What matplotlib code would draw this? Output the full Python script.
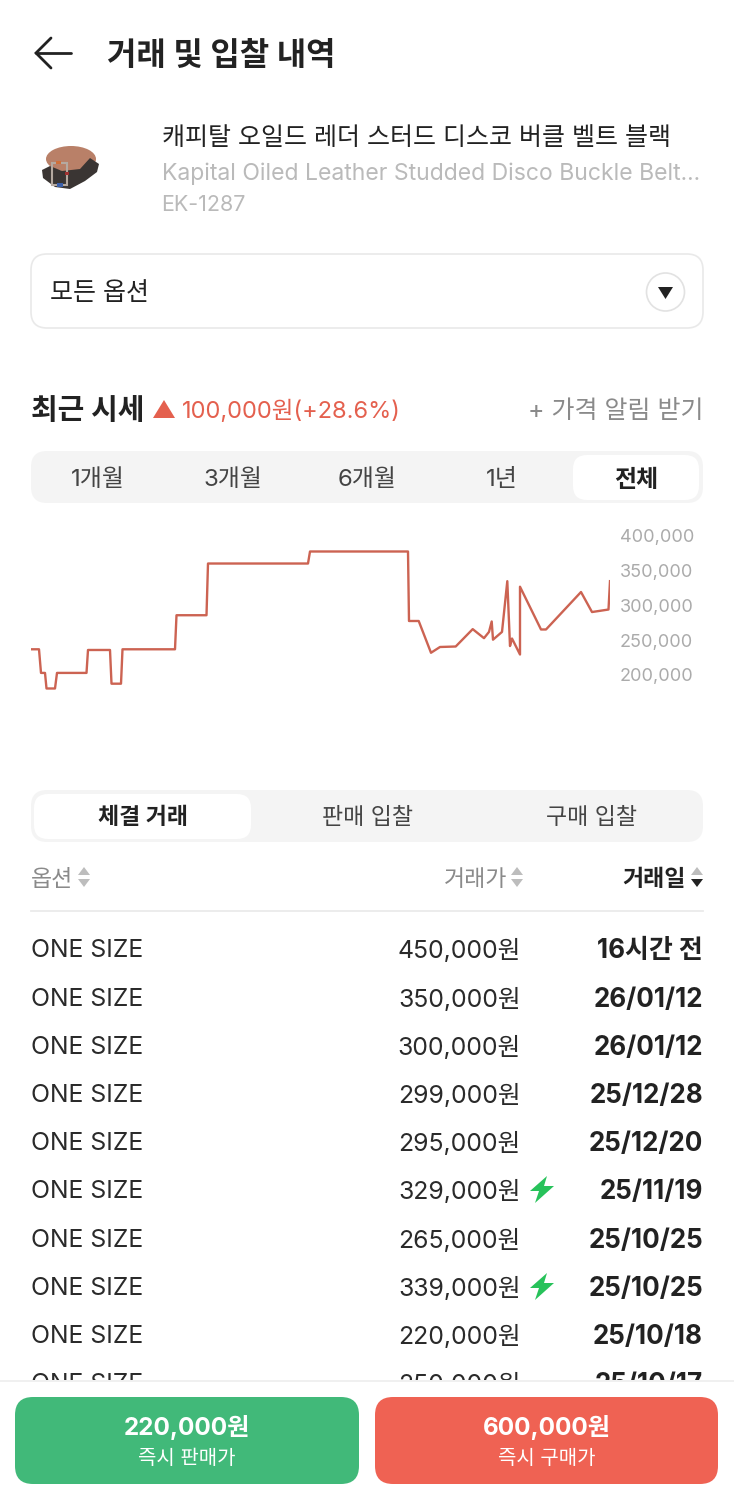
import matplotlib
matplotlib.use("Agg")
import matplotlib.pyplot as plt
from matplotlib.patches import FancyBboxPatch, Polygon, Circle, Rectangle, Ellipse

FONT = ['Inter', 'Noto Sans CJK KR', 'DejaVu Sans']
plt.rcParams['font.family'] = FONT

# ---- data ----
days = [0, 8, 10, 14, 15.5, 24, 26, 55.5, 57, 79, 80.5, 90, 91.5, 144, 145.5, 175.5, 177, 277, 279,
        377, 378, 387.7, 400, 409, 424.7, 441.7, 453, 458, 460.7, 462, 471, 476.3, 479, 481, 489, 489,
        510, 515, 550, 561, 577.5, 579]
prices = [237000, 237000, 203000, 203000, 180600, 180600, 203000, 203000, 236000, 236000, 187500, 187500,
          237000, 237000, 286000, 286000, 360400, 360400, 377700,
          377700, 277700, 277700, 232000, 240300, 241000, 266000, 253000, 262000, 277000, 250800, 262000,
          335000, 241700, 252500, 229500, 327000, 265500, 265500, 319400, 290600, 294200, 335000]
y_ticks = [200000, 250000, 300000, 350000, 400000]
period_tabs = ['1개월', '3개월', '6개월', '1년', '전체']
list_tabs = ['체결 거래', '판매 입찰', '구매 입찰']
row_option = ['ONE SIZE'] * 10
row_price = ['450,000원', '350,000원', '300,000원', '299,000원', '295,000원', '329,000원',
             '265,000원', '339,000원', '220,000원', '250,000원']
row_date = ['16시간 전', '26/01/12', '26/01/12', '25/12/28', '25/12/20', '25/11/19',
            '25/10/25', '25/10/25', '25/10/18', '25/10/17']
row_fast = [False, False, False, False, False, True, False, True, False, False]

W, H = 734, 1500
fig = plt.figure(figsize=(W / 100, H / 100), dpi=100, facecolor='white')
bg = fig.add_axes([0, 0, 1, 1])
bg.set_xlim(0, W)
bg.set_ylim(H, 0)
bg.axis('off')


def T(x, y, s, px, color='#222222', ha='left', weight='normal', z=3):
    bg.text(x, y, s, fontsize=px * 0.72, color=color, ha=ha, va='center_baseline',
            fontweight=weight, family=FONT, zorder=z)


def box(x0, y0, x1, y1, r, fc, ec='none', lw=0, z=1):
    bg.add_patch(FancyBboxPatch((x0 + r, y0 + r), x1 - x0 - 2 * r, y1 - y0 - 2 * r,
                                boxstyle=f'round,pad={r},rounding_size={r}', fc=fc, ec=ec, lw=lw, zorder=z))


# header
bg.plot([36, 71], [53, 53], color='#222222', lw=2.0, solid_capstyle='round')
bg.plot([51, 36, 51], [38, 53, 68], color='#222222', lw=2.0, solid_capstyle='round', solid_joinstyle='miter')
T(107, 53, '거래 및 입찰 내역', 32, weight='bold')

# product thumbnail
bg.add_patch(Ellipse((71, 159), 50, 26, fc='#B98068', ec='none', zorder=2))
bg.add_patch(Polygon([[42, 170], [50, 166], [62, 171], [80, 169], [90, 158], [99, 164], [97, 172], [85, 181],
                      [70, 189], [55, 187], [43, 178]], fc='#3A3533', ec='none', zorder=3))
bg.add_patch(Rectangle((52, 163), 15, 22, fc='none', ec='#B5A9A0', lw=1.5, zorder=4))
bg.add_patch(Rectangle((56, 161), 5, 3, fc='#D0703A', zorder=5))
bg.add_patch(Rectangle((57, 183), 6, 4, fc='#3B5FA8', zorder=5))
bg.add_patch(Rectangle((65, 172), 4, 3, fc='#A03030', zorder=5))
T(161.5, 136, '캐피탈 오일드 레더 스터드 디스코 버클 벨트 블랙', 25)
T(161.5, 171, 'Kapital Oiled Leather Studded Disco Buckle Belt...', 23, color='#BABABA')
T(161.5, 203, 'EK-1287', 21.5, color='#BABABA')

# option selector
box(31, 254, 703, 328, 16, 'white', ec='#E9E9E9', lw=1.2)
T(50, 291, '모든 옵션', 25)
bg.add_patch(Circle((665.5, 292), 19, fc='white', ec='#E2E2E2', lw=1.2, zorder=2))
bg.add_patch(Polygon([[658, 287], [673, 287], [665.5, 299]], fc='#222222', zorder=3))

# recent price
T(31, 409, '최근 시세', 29, weight='bold')
bg.add_patch(Polygon([[153, 418], [175, 418], [164, 400]], fc='#E4604E', zorder=3))
T(182, 409, '100,000원(+28.6%)', 23.6, color='#E4604E')
T(703, 409, '+ 가격 알림 받기', 25, color='#8A8A8A', ha='right')

# period tabs
box(31, 451, 703, 503, 16, '#F4F4F4')
box(573, 455, 699, 500, 14, 'white', z=2)
for xc, s in zip([98, 233, 367, 502, 636], period_tabs):
    act = s == '전체'
    T(xc, 478, s, 24, ha='center', weight='bold' if act else 'normal', color='#222222' if act else '#444444')

# chart
top_px, bot_px = 525, 700
ax = fig.add_axes([31 / W, 1 - bot_px / H, 579 / W, (bot_px - top_px) / H], facecolor='none')
ax.set_xlim(0, 579)
per_px = 1438.8
ax.set_ylim(200000 - (bot_px - 675) * per_px, 200000 + (675 - top_px) * per_px)
ax.plot(days, prices, color='#CC6352', lw=1.7, solid_joinstyle='round')
ax.yaxis.tick_right()
ax.set_yticks(y_ticks)
ax.set_yticklabels([f'{v:,}' for v in y_ticks], fontsize=18.1 * 0.72, color='#ABABAB', family=FONT)
ax.tick_params(axis='y', length=0, pad=7)
ax.set_xticks([])
for sp in ax.spines.values():
    sp.set_visible(False)

# list tabs
box(31, 790, 703, 842, 16, '#F4F4F4')
box(34, 794, 251, 839, 14, 'white', z=2)
for xc, s in zip([143, 367.5, 591], list_tabs):
    act = s == '체결 거래'
    T(xc, 816, s, 23, ha='center', weight='bold' if act else 'normal', color='#222222' if act else '#444444')


def sort_arrows(x, y, col_up='#BDBDBD', col_dn='#BDBDBD'):
    bg.add_patch(Polygon([[x - 6, y - 2], [x + 6, y - 2], [x, y - 10]], fc=col_up, zorder=3))
    bg.add_patch(Polygon([[x - 6, y + 2], [x + 6, y + 2], [x, y + 10]], fc=col_dn, zorder=3))


T(31, 877, '옵션', 23, color='#8A8A8A')
sort_arrows(84, 877)
T(507, 877, '거래가', 23, color='#8A8A8A', ha='right')
sort_arrows(517, 877)
T(686, 877, '거래일', 23, ha='right', weight='bold')
sort_arrows(697, 877, col_dn='#222222')
bg.plot([31, 703], [911, 911], color='#EBEBEB', lw=1.3)

# table
row_y = [948, 997, 1045, 1093, 1141, 1189, 1238, 1286, 1334, 1382]
for y, o, p, d, f in zip(row_y, row_option, row_price, row_date, row_fast):
    T(31, y, o, 24.8, color='#2A2A2A')
    T(520.5, y, p, 24.8, color='#2A2A2A', ha='right')
    T(703, y, d, 26, ha='right', weight='bold')
    if f:
        bg.add_patch(Polygon([[547, y - 13], [530, y + 2], [539, y + 2], [535, y + 14],
                              [554, y - 3], [544, y - 3]], fc='#27C25A', zorder=3))

# footer
bg.add_patch(Rectangle((0, 1380), W, 120, fc='white', ec='none', zorder=6))
bg.plot([0, W], [1380.5, 1380.5], color='#EDEDED', lw=1.2, zorder=7)
box(15, 1397, 359, 1484, 18, '#41B979', z=7)
box(375, 1397, 718, 1484, 18, '#EF6253', z=7)
T(187, 1425, '220,000원', 24.2, color='white', ha='center', weight='bold', z=8)
T(187, 1457, '즉시 판매가', 20, color='white', ha='center', z=8)
T(547, 1425, '600,000원', 24.2, color='white', ha='center', weight='bold', z=8)
T(547, 1457, '즉시 구매가', 20, color='white', ha='center', z=8)

fig.savefig('out.png', dpi=100, facecolor='white')
